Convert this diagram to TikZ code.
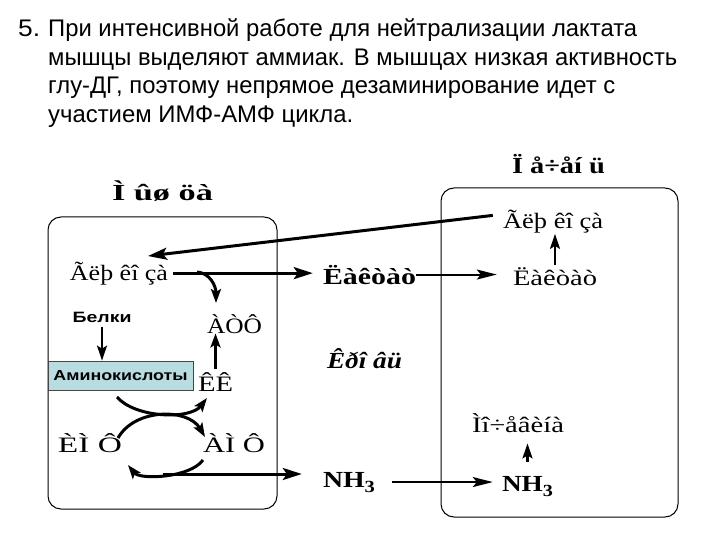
\documentclass[tikz,border=0pt]{standalone}
\usepackage{fontspec}
\usepackage{graphicx}
\setmainfont{Liberation Sans}
\newfontfamily\sr{Liberation Serif}
\usetikzlibrary{arrows.meta}
\newcommand{\fw}[2]{\resizebox{#1pt}{\height}{#2}}
\definecolor{aminofill}{RGB}{185,220,225}
\definecolor{aminoline}{RGB}{70,70,70}
\tikzset{
  ttl/.style={anchor=base west, inner sep=0pt, font=\fontsize{24}{28}\selectfont},
  lab/.style={anchor=base, inner sep=0pt, font=\sr\fontsize{22}{26}\selectfont},
  blab/.style={anchor=base, inner sep=0pt, font=\sr\bfseries\fontsize{23}{26}\selectfont},
  region/.style={draw, rounded corners=13pt, line width=1pt},
  arr/.style={line width=3pt, -{Stealth[length=19pt,width=12pt,inset=4pt]}},
  tarr/.style={line width=2pt, -{Stealth[length=20pt,width=10pt,inset=4pt]}},
  sarr/.style={line width=2.5pt, -{Stealth[length=15pt,width=10pt,inset=3pt]}},
  carr/.style={line width=3pt, -{Stealth[length=14pt,width=10pt,inset=3pt]}},
}
\begin{document}
\begin{tikzpicture}[x=1pt,y=-1pt]
\useasboundingbox (0,0) rectangle (720,540);
% title text
\node[ttl] (n5) at (18,37) {\fw{22}{5.}};
\node[ttl] (l1) at (48,37) {\fw{589}{При интенсивной работе для нейтрализации лактата}};
\node[ttl] (l2) at (48,65.5) {\fw{629}{мышцы выделяют аммиак. В мышцах низкая активность}};
\node[ttl] (l3) at (48,94) {\fw{567}{глу-ДГ, поэтому непрямое дезаминирование идет с}};
\node[ttl] (l4) at (48,122.5) {\fw{305}{участием ИМФ-АМФ цикла.}};
% regions
\draw[region] (48,217) rectangle (277,509);
\draw[region] (441,188) rectangle (678,517);
% labels
\node[blab] (mus) at (162.5,201) {\fw{101}{Ì ûø öà}};
\node[blab] (liv) at (558.5,174) {\fw{93}{Ï å÷åí ü}};
\node[lab] (glL) at (119,280) {\fw{98}{Ãëþ êî çà}};
\node[lab] (glR) at (553,229) {\fw{100}{Ãëþ êî çà}};
\node[blab] (lacM) at (369.5,284) {\fw{93}{Ëàêòàò}};
\node[lab] (lacR) at (555,285) {\fw{84}{Ëàêòàò}};
\node[lab] (atp) at (234.5,333) {\fw{55}{ÀÒÔ}};
\node[lab] (kk) at (215.5,391) {\fw{35}{ÊÊ}};
\node[lab] (imp) at (90,452) {\fw{64}{ÈÌ Ô}};
\node[lab] (amp) at (234,452) {\fw{62}{ÀÌ Ô}};
\node[blab, font=\sr\bfseries\itshape\fontsize{23}{26}\selectfont] (blood) at (364.5,368) {\fw{75}{Êðî âü}};
\node[blab] (nhM) at (349,487) {\fw{52}{NH\raisebox{-5pt}{\fontsize{17}{17}\selectfont 3}}};
\node[blab] (nhR) at (527.5,491) {\fw{51}{NH\raisebox{-5pt}{\fontsize{17}{17}\selectfont 3}}};
\node[lab] (mo) at (518,432) {\fw{92}{Ìî÷åâèíà}};
\node[anchor=base, inner sep=0pt, font=\bfseries\fontsize{15}{18}\selectfont] (bel) at (102,322) {\fw{59}{Белки}};
\node[draw=aminoline, line width=0.8pt, fill=aminofill, minimum width=145pt, minimum height=29pt, inner sep=0pt,
      font=\bfseries\fontsize{14.5}{16}\selectfont] (ami) at (120.5,375.5) {\fw{134}{Аминокислоты}};
% coordinates
\coordinate (gTip) at (148,256);
\coordinate (gl1) at (197,272);
\coordinate (atpIn) at (216,303);
\coordinate (aOut) at (117,397);
\coordinate (kkIn) at (207,398);
\coordinate (iOut) at (118,438);
\coordinate (aIn) at (205,437);
\coordinate (amOut) at (203,460);
\coordinate (iIn) at (128,465);
\coordinate (cyc) at (163,474);
% connectors
\draw[arr] ([xshift=-10pt,yshift=-5pt]glR.north west) -- (gTip);
\draw[arr] ([xshift=5pt]glL.east) -- ([xshift=-10pt]lacM.west |- glL.east);
\draw[tarr] (lacM.east) -- ([xshift=-16pt]lacR.west |- lacM.east);
\draw[sarr] ([yshift=2pt]lacR.north) -- (lacR.north |- glR.south);
\draw[carr] (gl1) .. controls (210,273) and (216,286) .. (atpIn);
\draw[carr] ([yshift=3pt]kk.north) -- (kk.north |- atp.south);
\draw[tarr, -{Stealth[length=15pt,width=10pt,inset=3pt]}, shorten <=5pt] (bel.south) -- (bel.south |- ami.north);
\draw[carr] (aOut) .. controls (135,418) and (190,420) .. (kkIn);
\draw[carr] (iOut) .. controls (135,408) and (188,408) .. (aIn);
\draw[carr] (amOut) .. controls (190,478) and (140,480) .. (iIn);
\draw[arr] (cyc) -- ([xshift=-21pt]nhM.west |- cyc);
\draw[tarr] ([xshift=17pt]nhM.east) -- ([xshift=-9pt]nhR.west |- nhM.east);
\draw[sarr, shorten <=14pt, shorten >=11pt] (nhR.north) -- (nhR.north |- mo.south);
\end{tikzpicture}
\end{document}
